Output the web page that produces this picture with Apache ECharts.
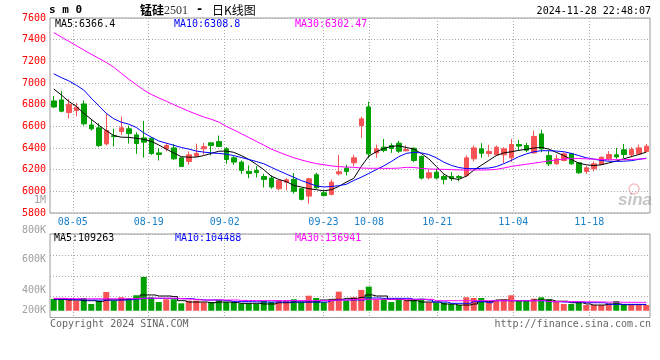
<!DOCTYPE html>
<html><head><meta charset="utf-8">
<script src="https://cdn.jsdelivr.net/npm/echarts@6/dist/echarts.min.js"></script>
<style>html,body{margin:0;padding:0;background:#fff}#c{width:660px;height:360px}</style>
</head><body><div id="c"></div>
<script>
const dates = ['07-31','08-01','08-02','08-05','08-06','08-07','08-08','08-09','08-12','08-13','08-14','08-15','08-16','08-19','08-20','08-21','08-22','08-23','08-26','08-27','08-28','08-29','08-30','09-02','09-03','09-04','09-05','09-06','09-09','09-10','09-11','09-12','09-13','09-18','09-19','09-20','09-23','09-24','09-25','09-26','09-27','09-30','10-08','10-09','10-10','10-11','10-14','10-15','10-16','10-17','10-18','10-21','10-22','10-23','10-24','10-25','10-28','10-29','10-30','10-31','11-01','11-04','11-05','11-06','11-07','11-08','11-11','11-12','11-13','11-14','11-15','11-18','11-19','11-20','11-21','11-22','11-25','11-26','11-27','11-28'];
const opens = [6834,6844,6727,6745,6807,6613,6586,6438,6513,6552, 6577,6521,6493,6490,6355,6392,6401,6309,6276,6325, 6392,6448,6460,6392,6309,6270,6184,6193,6137,6122, 6024,6085,6110,6024,5956,6153,5987,5972,6162,6214, 6263,6607,6779,6355,6408,6423,6444,6374,6398,6322, 6125,6177,6137,6137,6137,6147,6300,6392,6349,6337, 6337,6309,6432,6423,6355,6530,6331,6254,6285,6346, 6263,6184,6208,6248,6300,6337,6383,6337,6346,6368];
const closes = [6779,6740,6804,6776,6623,6577,6423,6561,6505,6586, 6533,6441,6454,6349,6340,6423,6300,6230,6337,6350, 6412,6423,6414,6294,6270,6193,6165,6172,6110,6040, 6101,6107,6000,5926,6116,6033,5962,6085,6180,6184, 6309,6669,6346,6392,6377,6395,6371,6386,6285,6122, 6171,6122,6110,6117,6128,6309,6401,6352,6368,6408, 6392,6432,6418,6380,6506,6392,6254,6300,6346,6254, 6171,6217,6254,6315,6340,6318,6340,6386,6401,6417];
const lows = [6770,6730,6672,6693,6607,6561,6408,6423,6414,6521, 6441,6346,6312,6337,6285,6368,6291,6228,6245,6322, 6338,6331,6410,6254,6245,6162,6122,6128,6036,6024, 6010,6009,5978,5916,5886,6024,5953,5962,6147,6147, 6233,6494,6306,6309,6361,6355,6355,6368,6270,6110, 6110,6110,6064,6094,6092,6131,6276,6309,6319,6331, 6260,6270,6377,6361,6346,6361,6233,6245,6276,6245, 6162,6162,6184,6245,6285,6300,6306,6315,6337,6361];
const highs = [6880,6926,6853,6816,6840,6662,6629,6718,6577,6690, 6607,6546,6650,6500,6398,6447,6438,6312,6368,6440, 6446,6450,6515,6408,6325,6285,6239,6233,6162,6147, 6110,6122,6168,6030,6125,6171,6008,6107,6337,6245, 6337,6690,6828,6432,6484,6444,6466,6423,6404,6331, 6202,6208,6156,6177,6150,6331,6423,6444,6429,6423, 6408,6484,6475,6447,6561,6570,6377,6337,6361,6355, 6270,6233,6276,6320,6371,6401,6438,6408,6432,6438];
const ma5 = [6945,6890,6830,6785,6720,6665,6610,6560,6515,6500, 6498,6490,6480,6462,6428,6390,6355,6320,6315,6316, 6330,6350,6370,6372,6360,6330,6295,6250,6200,6140, 6110,6090,6055,6040,6025,6015,6005,6015,6045,6085, 6120,6230,6325,6365,6395,6415,6420,6405,6390,6350, 6300,6230,6160,6120,6110,6140,6195,6240,6285,6330, 6355,6365,6378,6388,6400,6405,6390,6360,6330,6295, 6260,6245,6238,6245,6262,6280,6300,6320,6340,6362];
const ma10 = [7085,7050,7020,6980,6935,6860,6790,6720,6670,6638, 6620,6590,6540,6500,6465,6445,6425,6405,6390,6372, 6362,6355,6350,6343,6330,6312,6295,6275,6255,6222, 6190,6160,6130,6100,6075,6050,6040,6045,6052,6065, 6100,6130,6165,6200,6235,6275,6320,6350,6360,6355, 6340,6310,6270,6240,6220,6210,6210,6212,6215,6228, 6255,6285,6320,6345,6365,6375,6375,6372,6366,6350, 6330,6310,6298,6285,6278,6276,6278,6283,6295,6306];
const ma30 = [7465,7425,7385,7345,7305,7265,7228,7190,7145,7090, 7035,6985,6935,6895,6862,6832,6800,6770,6740,6712, 6687,6665,6640,6600,6567,6532,6497,6462,6427,6390, 6362,6335,6310,6290,6272,6256,6246,6235,6228,6224, 6222,6215,6213,6213,6212,6212,6214,6222,6220,6212, 6207,6204,6203,6200,6198,6196,6197,6197,6198,6203, 6215,6230,6240,6250,6260,6270,6280,6290,6298,6302, 6303,6300,6297,6294,6292,6292,6292,6294,6298,6302];
const volumes = [191000,187000,187000,164000,208000,110000,164000,306000,164000,219000, 203000,252000,551000,219000,142000,187000,187000,121000,164000,164000, 137000,142000,175000,142000,142000,121000,121000,110000,164000,142000, 164000,164000,187000,142000,245000,208000,142000,175000,311000,164000, 219000,339000,393000,187000,196000,142000,187000,164000,187000,196000, 137000,131000,131000,110000,93000,219000,208000,208000,147000,164000, 187000,252000,164000,164000,196000,219000,187000,142000,110000,110000, 142000,93000,93000,93000,110000,159000,110000,93000,93000,93000];
const volMa5 = [186000,186000,175000,175000,164000,164000,150000,175000,175000,180000, 186000,200000,257000,257000,240000,240000,230000,164000,142000,142000, 142000,131000,142000,142000,135000,121000,121000,121000,110000,110000, 131000,131000,142000,142000,142000,142000,175000,186000,186000,202000, 202000,219000,257000,240000,240000,186000,186000,164000,164000,142000, 142000,142000,110000,110000,93000,93000,110000,148000,148000,175000, 175000,164000,164000,164000,175000,175000,175000,155000,155000,131000, 131000,110000,93000,93000,110000,110000,99000,99000,100000,100000];
const volMa10 = [191000,191000,186000,180000,175000,175000,175000,175000,175000,175000, 180000,190000,202000,202000,202000,202000,197000,197000,197000,185000, 175000,175000,175000,165000,148000,148000,148000,145000,142000,142000, 142000,142000,142000,142000,142000,142000,142000,165000,175000,175000, 175000,175000,208000,208000,202000,202000,202000,202000,186000,186000, 175000,142000,142000,121000,121000,121000,148000,148000,131000,164000, 164000,164000,164000,164000,164000,164000,148000,148000,142000,142000, 142000,131000,131000,131000,104000,104000,104000,104000,104000,104000];
const volMa30 = [202000,202000,198000,196000,195000,195000,195000,195000,195000,195000, 196000,198000,205000,205000,205000,205000,205000,195000,190000,180000, 175000,175000,175000,175000,175000,168000,166000,166000,166000,166000, 166000,166000,166000,166000,166000,166000,166000,170000,175000,175000, 186000,186000,186000,186000,186000,186000,186000,186000,186000,186000, 186000,164000,164000,164000,164000,164000,164000,164000,164000,164000, 164000,164000,164000,164000,164000,164000,150000,150000,148000,148000, 148000,145000,145000,142000,140000,140000,138000,137000,137000,137000];
const dateLabelIndex = [3,13,23,36,42,51,61,71];
const volTickLabels = ['1M','800K','600K','400K','200K'];
const titleParts = ['锰硅', '2501', '-', '日K线图'];
const codeText = 's m 0';
const timeText = '2024-11-28 22:48:07';
const kLegend = ['MA5:6366.4','MA10:6308.8','MA30:6302.47'];
const vLegend = ['MA5:109263','MA10:104488','MA30:136941'];

const UP = '#f65454', DOWN = '#00a000';
const MONO = '"DejaVu Sans Mono", monospace';
const CJK = '"Noto Sans CJK SC"';
const chart = echarts.init(document.getElementById('c'), null, {renderer: 'canvas'});
const kData = dates.map((d, i) => [opens[i], closes[i], lows[i], highs[i]]);
const volData = volumes.map((v, i) => ({value: v, itemStyle: {color: closes[i] >= opens[i] ? UP : DOWN}}));
const showIdx = (i) => dateLabelIndex.indexOf(i) >= 0;
const dotted = {color: '#aaaaaa', type: [1, 2], width: 1};
const maLine = (name, data, color, xi, yi, step) => ({
  name, type: 'line', data, xAxisIndex: xi, yAxisIndex: yi, showSymbol: false, symbol: 'none',
  step: step || false, lineStyle: {color, width: 1}, itemStyle: {color}, silent: true
});
const txt = (x, y, text, color, opts) => Object.assign({type: 'text', x, y, silent: true,
  style: Object.assign({text, fill: color, font: '10px ' + MONO, textVerticalAlign: 'middle', verticalAlign: 'middle'}, opts || {})});
const volLabelY = [200, 230.5, 259.5, 290.5, 310.5];
const graphics = [
  txt(49, 10, codeText, '#000', {font: 'bold 11px ' + MONO}),
  txt(140, 10, titleParts[0], '#000', {font: 'bold 12px ' + CJK}),
  txt(164, 10.5, titleParts[1], '#333', {font: '12px "Liberation Serif"'}),
  txt(196, 10, titleParts[2], '#000', {font: 'bold 12px ' + MONO}),
  txt(212, 10, titleParts[3], '#000', {font: '12px ' + CJK}),
  txt(651, 11, timeText, '#000', {align: 'right', textAlign: 'right'}),
  txt(55, 24, kLegend[0], '#000'),
  txt(174, 24, kLegend[1], '#0000ff'),
  txt(295, 24, kLegend[2], '#ff00ff'),
  txt(54, 238.5, vLegend[0], '#000'),
  txt(175, 238.5, vLegend[1], '#0000ff'),
  txt(295, 238.5, vLegend[2], '#ff00ff'),
  txt(50, 324, 'Copyright 2024 SINA.COM', '#666'),
  txt(651, 324, 'http://finance.sina.com.cn', '#666', {align: 'right', textAlign: 'right'}),
  txt(618, 200, 'sina', 'rgba(150,150,150,0.55)', {font: 'italic bold 17px "Liberation Sans"'}),
  {type: 'circle', silent: true, shape: {cx: 634, cy: 189, r: 5}, style: {fill: 'none', stroke: 'rgba(230,120,120,0.45)', lineWidth: 1.5}}
];
volTickLabels.forEach((t, k) => graphics.push(txt(46, volLabelY[k], t, '#a0a0a0', {align: 'right', textAlign: 'right'})));

chart.setOption({
  animation: false,
  backgroundColor: '#fff',
  grid: [
    {left: 50, right: 10, top: 18, height: 195, show: true, borderColor: '#999', borderWidth: 1},
    {left: 50, right: 10, top: 234, height: 83.5, show: true, borderColor: '#999', borderWidth: 1}
  ],
  xAxis: [
    {type: 'category', gridIndex: 0, data: dates, boundaryGap: true, position: 'top', axisLine: {show: false}, axisTick: {show: false}, axisLabel: {show: false}, splitLine: {show: false}},
    {type: 'category', gridIndex: 0, data: dates, boundaryGap: false, position: 'bottom', axisLine: {show: false}, axisTick: {show: false},
      axisLabel: {show: true, interval: (i) => showIdx(i), color: '#1a80c8', fontFamily: MONO, fontSize: 10, margin: 4},
      splitLine: {show: true, interval: (i) => showIdx(i), lineStyle: dotted}},
    {type: 'category', gridIndex: 1, data: dates, boundaryGap: true, position: 'top', axisLine: {show: false}, axisTick: {show: false}, axisLabel: {show: false}, splitLine: {show: false}},
    {type: 'category', gridIndex: 1, data: dates, boundaryGap: false, position: 'bottom', axisLine: {show: false}, axisTick: {show: false}, axisLabel: {show: false},
      splitLine: {show: true, interval: (i) => showIdx(i), lineStyle: dotted}}
  ],
  yAxis: [
    {type: 'value', gridIndex: 0, min: 5800, max: 7600, interval: 200, axisLine: {show: false}, axisTick: {show: false},
      axisLabel: {color: '#ff0000', fontFamily: MONO, fontSize: 10, margin: 4, padding: [0, 0, 4, 0], formatter: (v) => String(v)}, splitLine: {lineStyle: dotted}},
    {type: 'value', gridIndex: 1, min: -110000, max: 1250000, interval: 340000, axisLine: {show: false}, axisTick: {show: false},
      axisLabel: {show: false}, splitLine: {lineStyle: dotted}}
  ],
  series: [
    {type: 'candlestick', xAxisIndex: 0, yAxisIndex: 0, data: kData, barWidth: 5,
      itemStyle: {color: UP, color0: DOWN, borderColor: UP, borderColor0: DOWN, borderWidth: 1}},
    maLine('MA5', ma5, '#000000', 0, 0),
    maLine('MA10', ma10, '#0000ff', 0, 0),
    maLine('MA30', ma30, '#ff00ff', 0, 0),
    {type: 'bar', xAxisIndex: 2, yAxisIndex: 1, data: volData, barWidth: 6},
    maLine('VMA5', volMa5, '#000000', 2, 1, 'middle'),
    maLine('VMA10', volMa10, '#0000ff', 2, 1, 'middle'),
    maLine('VMA30', volMa30, '#ff00ff', 2, 1, 'middle')
  ],
  graphic: graphics
});
</script></body></html>
